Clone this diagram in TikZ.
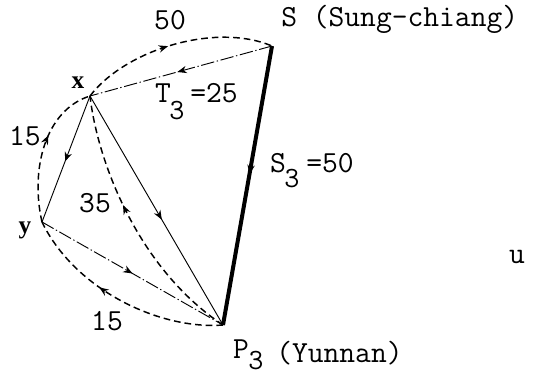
\documentclass[tikz,border=0pt]{standalone}
\usepackage{fontspec}
\newfontfamily\lblfont{Liberation Serif}
\usetikzlibrary{arrows.meta,decorations.markings}
\begin{document}
\begin{tikzpicture}[x=0.75pt,y=-0.75pt,
  txt/.style={inner sep=0pt,font=\ttfamily\fontsize{23}{26}\selectfont},
  sub/.style={inner sep=0pt,font=\ttfamily\fontsize{22}{24}\selectfont},
  vlbl/.style={inner sep=0pt,font=\lblfont\bfseries\fontsize{19}{20}\selectfont},
  midarrow/.style={postaction={decorate},decoration={markings,
     mark=at position #1 with {\arrow{Stealth[length=7pt,width=5.5pt]}}}},
  flow/.style={line width=0.7pt},
  dashdot/.style={line width=0.7pt,dash pattern=on 10pt off 2pt on 1pt off 2pt},
  counter/.style={line width=1.1pt,dash pattern=on 5pt off 3pt},
  heavy/.style={line width=3pt}]
\useasboundingbox (0,0) rectangle (539,377);
\coordinate (S) at (272,46);
\coordinate (X) at (90,96);
\coordinate (Y) at (42,222);
\coordinate (P) at (223,325);
% solid / dash-dot flows
\draw[heavy,midarrow=0.46] (S) -- (P);
\draw[dashdot,midarrow=0.52] (S) -- (X);
\draw[flow,midarrow=0.52] (X) -- (Y);
\draw[flow,midarrow=0.54] (X) -- (P);
\draw[dashdot,midarrow=0.5] (Y) -- (P);
% dashed counter flows
\draw[counter,midarrow=0.47] (X) .. controls (125,50) and (215,22) .. (S);
\draw[counter,midarrow=0.6] (Y) .. controls (30,170) and (45,110) .. (X);
\draw[counter,midarrow=0.58] (P) .. controls (140,270) and (98,165) .. (X);
\draw[counter,midarrow=0.6] (P) .. controls (160,330) and (75,290) .. (Y);
% labels
\node[txt] (l50) at (170,20) {50};
\node[txt,anchor=west] (ls) at (281,19) {S (Sung-chiang)};
\node[txt] (lt) at (163,93) {T};
\node[sub] (lt3) at (177,111) {3};
\node[txt] (lt25) at (214,93) {=25};
\node[txt] (ls3) at (278,163) {S};
\node[sub] (ls33) at (292,179) {3};
\node[txt] (ls50) at (330,163) {=50};
\node[txt] (l15a) at (25,136) {15};
\node[txt] (l35) at (95,203) {35};
\node[txt] (l15b) at (107,321) {15};
\node[vlbl] (lx) at (78,83) {x};
\node[vlbl] (ly) at (25,230) {y};
\node[txt] (lp) at (241,349) {P};
\node[sub] (lp3) at (256,361) {3};
\node[txt,anchor=west] (lyun) at (276,353) {(Yunnan)};
\node[txt] (lu) at (517,257) {u};
\end{tikzpicture}
\end{document}
